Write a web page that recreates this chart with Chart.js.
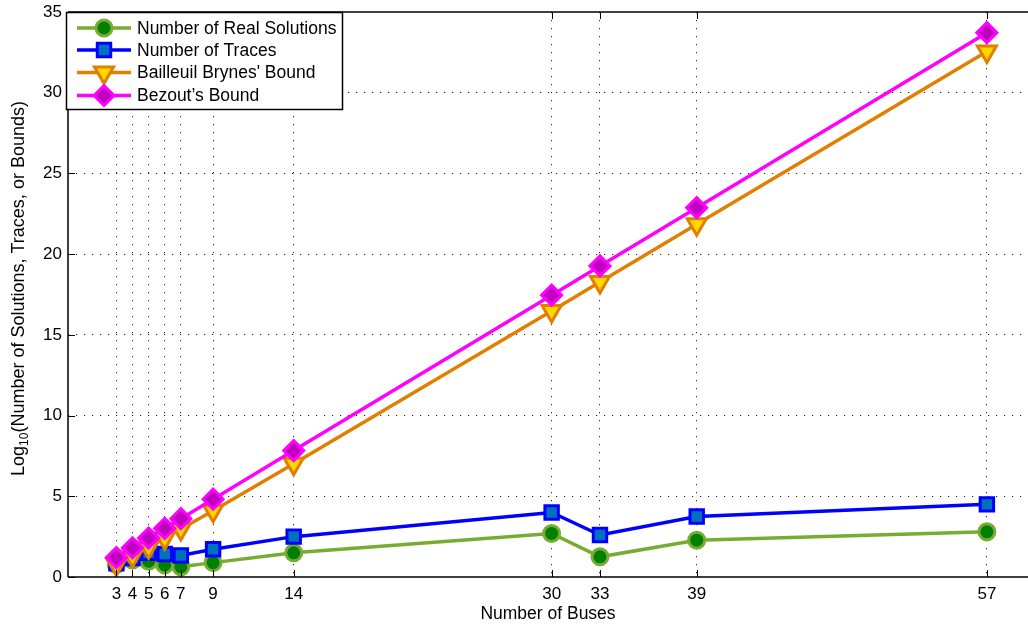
<!DOCTYPE html>
<html><head><meta charset="utf-8">
<script src="https://cdn.jsdelivr.net/npm/chart.js@4"></script>
<style>
html,body{margin:0;padding:0;background:#fff;overflow:hidden;width:1028px;height:625px}
canvas{display:block}
</style></head>
<body><canvas id="c" width="1028" height="625" style="width:1028px;height:625px"></canvas>
<script>
// ---- data ----
const buses = [3, 4, 5, 6, 7, 9, 14, 30, 33, 39, 57];
const xTickLabels = ['3', '4', '5', '6', '7', '9', '14', '30', '33', '39', '57'];
const realSolutions = [0.78, 1.05, 0.98, 0.75, 0.63, 0.89, 1.50, 2.70, 1.25, 2.28, 2.80];
const traces = [0.85, 1.18, 1.50, 1.42, 1.33, 1.72, 2.50, 4.00, 2.60, 3.75, 4.50];
const bbBound = [0.78, 1.30, 1.85, 2.40, 2.97, 4.11, 7.02, 16.48, 18.27, 21.85, 32.55];
const bezoutBound = [1.20, 1.81, 2.41, 3.01, 3.61, 4.82, 7.83, 17.46, 19.27, 22.88, 33.72];
const yTicks = [0, 5, 10, 15, 20, 25, 30, 35];
const seriesNames = ['Number of Real Solutions', 'Number of Traces', "Bailleuil Brynes' Bound", 'Bezout\u2019s Bound'];
const xTitle = 'Number of Buses';
const yTitleParts = ['Log', '10', '(Number of Solutions, Traces, or Bounds)'];

const FONT = '"Liberation Sans", Arial, Helvetica, sans-serif';
const pts = vals => buses.map((b, i) => ({ x: b, y: vals[i] }));

const datasets = [
  { label: seriesNames[0], data: pts(realSolutions), borderColor: '#77ac30', backgroundColor: '#008000',
    pointStyle: 'circle', pointRadius: 8, pointBorderColor: '#77ac30', pointBorderWidth: 3, order: 3 },
  { label: seriesNames[1], data: pts(traces), borderColor: '#0000ff', backgroundColor: '#0072bd',
    pointStyle: 'rect', pointRadius: 9.5, pointBorderColor: '#0000ff', pointBorderWidth: 3, order: 2 },
  { label: seriesNames[2], data: pts(bbBound), borderColor: '#e07f00', backgroundColor: '#ffd700',
    pointStyle: 'triangle', pointRotation: 180, pointRadius: 11, pointBorderColor: '#e07f00', pointBorderWidth: 3, order: 1 },
  { label: seriesNames[3], data: pts(bezoutBound), borderColor: '#ff00ff', backgroundColor: '#c000c0',
    pointStyle: 'rectRot', pointRadius: 10, pointBorderColor: '#ff00ff', pointBorderWidth: 3, order: 0 }
];
datasets.forEach(d => { d.borderWidth = 3.5; d.pointBackgroundColor = d.backgroundColor; d.tension = 0; d.fill = false; });

const framePlugin = {
  id: 'frame',
  afterDraw(chart) {
    const ctx = chart.ctx, a = chart.chartArea, xs = chart.scales.x, ys = chart.scales.y;
    ctx.save();
    ctx.strokeStyle = '#000'; ctx.lineWidth = 1.5;
    ctx.beginPath();
    ctx.moveTo(a.left, a.top); ctx.lineTo(a.right, a.top);
    ctx.moveTo(a.left, a.top); ctx.lineTo(a.left, a.bottom);
    ctx.moveTo(a.left, a.bottom); ctx.lineTo(a.right, a.bottom);
    ctx.stroke();
    ctx.lineWidth = 1;
    ctx.beginPath();
    buses.forEach(b => {
      const x = Math.round(xs.getPixelForValue(b)) + 0.5;
      ctx.moveTo(x, a.bottom); ctx.lineTo(x, a.bottom - 7);
      ctx.moveTo(x, a.top); ctx.lineTo(x, a.top + 7);
    });
    yTicks.forEach(v => {
      const y = Math.round(ys.getPixelForValue(v)) + 0.5;
      ctx.moveTo(a.left, y); ctx.lineTo(a.left + 7, y);
    });
    ctx.stroke();
    // y title with subscript
    ctx.fillStyle = '#000';
    ctx.translate(19, (a.top + a.bottom) / 2 - 6);
    ctx.rotate(-Math.PI / 2);
    const big = '18px ' + FONT, small = '12px ' + FONT;
    ctx.font = big; const w0 = ctx.measureText(yTitleParts[0]).width, w2 = ctx.measureText(yTitleParts[2]).width;
    ctx.font = small; const w1 = ctx.measureText(yTitleParts[1]).width;
    let x0 = -(w0 + w1 + w2) / 2;
    ctx.textBaseline = 'middle'; ctx.textAlign = 'left';
    ctx.font = big; ctx.fillText(yTitleParts[0], x0, 0);
    ctx.font = small; ctx.fillText(yTitleParts[1], x0 + w0, 6);
    ctx.font = big; ctx.fillText(yTitleParts[2], x0 + w0 + w1, 0);
    ctx.restore();

    // legend
    ctx.save();
    const L = 66, T = 12, R = 342, B = 109;
    ctx.fillStyle = '#fff'; ctx.fillRect(L, T, R - L, B - T);
    ctx.strokeStyle = '#000'; ctx.lineWidth = 1.5; ctx.strokeRect(L + 0.5, T + 0.5, R - L, B - T);
    const rows = [28, 50, 72.5, 95.5];
    chart.data.datasets.forEach((d, i) => {
      const y = rows[i];
      ctx.strokeStyle = d.borderColor; ctx.lineWidth = 3.5;
      ctx.beginPath(); ctx.moveTo(77, y); ctx.lineTo(131, y); ctx.stroke();
      ctx.fillStyle = d.pointBackgroundColor; ctx.strokeStyle = d.pointBorderColor; ctx.lineWidth = d.pointBorderWidth;
      Chart.helpers.drawPoint(ctx, { pointStyle: d.pointStyle, radius: d.pointRadius, rotation: d.pointRotation || 0, borderWidth: d.pointBorderWidth }, 104, y);
      ctx.fillStyle = '#000'; ctx.font = '17.5px ' + FONT; ctx.textBaseline = 'middle'; ctx.textAlign = 'left';
      ctx.fillText(d.label, 137, y + 1);
    });
    ctx.restore();
  }
};

new Chart(document.getElementById('c'), {
  type: 'line',
  data: { datasets },
  options: {
    responsive: false, animation: false, devicePixelRatio: 1,
    layout: { autoPadding: false, padding: { top: 12, right: 0, left: 0, bottom: 0 } },
    plugins: { legend: { display: false }, tooltip: { enabled: false } },
    scales: {
      x: {
        type: 'linear', min: 0, max: 59.55,
        afterBuildTicks: s => { s.ticks = buses.map(v => ({ value: v })); },
        afterFit: s => { s.height = 48; s.paddingLeft = 0; s.paddingRight = 0; },
        ticks: { autoSkip: false, maxRotation: 0, padding: 7, color: '#000', font: { size: 17, family: FONT },
                 callback: v => xTickLabels[buses.indexOf(v)] },
        grid: { color: '#222', lineWidth: 1, drawTicks: false },
        border: { display: false, dash: [1.2, 6.8] },
        title: { display: true, text: xTitle, color: '#000', font: { size: 17.5, family: FONT }, padding: { top: 0, bottom: 0 } }
      },
      y: {
        min: 0, max: 35,
        afterBuildTicks: s => { s.ticks = yTicks.map(v => ({ value: v })); },
        afterFit: s => { s.width = 68; s.paddingTop = 0; s.paddingBottom = 0; },
        ticks: { padding: 6, color: '#000', font: { size: 17, family: FONT } },
        grid: { color: ctx => (ctx.tick && (ctx.tick.value === 0 || ctx.tick.value === 35)) ? 'rgba(0,0,0,0)' : '#222', lineWidth: 1, drawTicks: false },
        border: { display: false, dash: [1.2, 6.8] }
      }
    }
  },
  plugins: [framePlugin]
});
</script></body></html>
